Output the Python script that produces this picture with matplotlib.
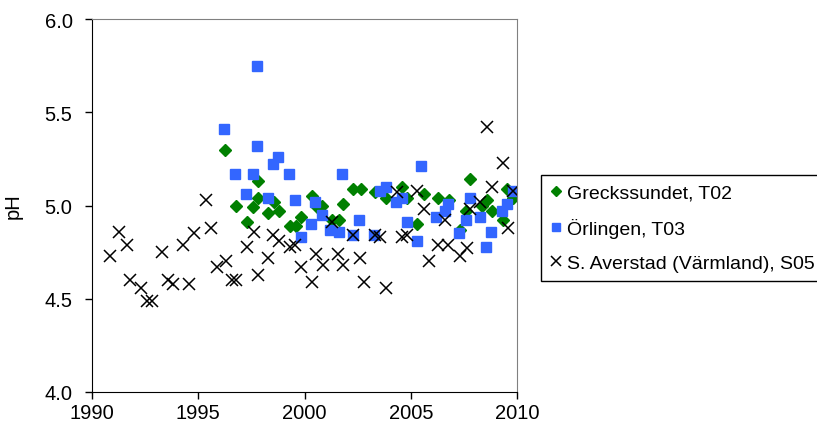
# pH at three lake stations, 1990-2010

import matplotlib.pyplot as plt

plt.rcParams['font.family'] = ['Liberation Sans', 'DejaVu Sans']

# Greckssundet, T02
t02_year = [1996.26, 1996.77, 1997.31, 1997.59, 1997.80, 1997.80, 1998.30, 1998.55, 1998.81,
            1999.32, 1999.60, 1999.82, 2000.34, 2000.60, 2000.80, 2001.28, 2001.64, 2001.80,
            2002.30, 2002.64, 2003.32, 2003.82, 2004.57, 2004.84, 2005.30, 2005.60, 2006.28,
            2006.78, 2007.32, 2007.60, 2007.79, 2008.36, 2008.57, 2008.81, 2009.32, 2009.53,
            2009.83]
t02_ph = [5.30, 5.00, 4.91, 4.99, 5.04, 5.13, 4.96, 5.02, 4.97,
          4.89, 4.89, 4.94, 5.05, 4.99, 5.00, 4.92, 4.92, 5.01,
          5.09, 5.09, 5.07, 5.04, 5.10, 5.04, 4.90, 5.06, 5.04,
          5.03, 4.87, 4.97, 5.14, 5.00, 5.03, 4.97, 4.92, 5.09,
          5.04]

# Örlingen, T03
t03_year = [1996.23, 1996.73, 1997.25, 1997.59, 1997.75, 1997.75, 1998.26, 1998.50, 1998.77,
            1999.27, 1999.53, 1999.82, 2000.29, 2000.50, 2000.80, 2001.20, 2001.60, 2001.75,
            2002.27, 2002.58, 2003.27, 2003.53, 2003.84, 2004.30, 2004.57, 2004.80, 2005.28,
            2005.50, 2006.20, 2006.61, 2006.77, 2007.29, 2007.58, 2007.79, 2008.26, 2008.53,
            2008.76, 2009.28, 2009.51, 2009.83]
t03_ph = [5.41, 5.17, 5.06, 5.17, 5.75, 5.32, 5.04, 5.22, 5.26,
          5.17, 5.03, 4.83, 4.90, 5.02, 4.95, 4.87, 4.86, 5.17,
          4.84, 4.92, 4.84, 5.08, 5.10, 5.02, 5.04, 4.91, 4.81,
          5.21, 4.94, 4.97, 5.01, 4.85, 4.92, 5.04, 4.94, 4.78,
          4.86, 4.97, 5.01, 5.08]

# S. Averstad (Värmland), S05
s05_year = [1990.85, 1991.27, 1991.63, 1991.79, 1992.29, 1992.60, 1992.81, 1993.31, 1993.56,
            1993.83, 1994.30, 1994.58, 1994.81, 1995.36, 1995.62, 1995.86, 1996.29, 1996.58,
            1996.76, 1997.28, 1997.64, 1997.80, 1998.30, 1998.53, 1998.82, 1999.32, 1999.55,
            1999.82, 2000.36, 2000.54, 2000.89, 2001.28, 2001.59, 2001.80, 2002.30, 2002.61,
            2002.80, 2003.32, 2003.55, 2003.84, 2004.34, 2004.57, 2004.80, 2005.30, 2005.60,
            2005.86, 2006.28, 2006.61, 2006.77, 2007.30, 2007.63, 2007.79, 2008.27, 2008.57,
            2008.81, 2009.32, 2009.57, 2009.83]
s05_ph = [4.73, 4.86, 4.79, 4.60, 4.56, 4.49, 4.49, 4.75, 4.60,
          4.58, 4.79, 4.58, 4.85, 5.03, 4.88, 4.67, 4.70, 4.60,
          4.60, 4.78, 4.86, 4.63, 4.72, 4.84, 4.81, 4.78, 4.79,
          4.67, 4.59, 4.74, 4.68, 4.91, 4.74, 4.68, 4.84, 4.72,
          4.59, 4.84, 4.83, 4.56, 5.07, 4.83, 4.84, 5.08, 4.98,
          4.70, 4.79, 4.92, 4.79, 4.73, 4.77, 4.98, 5.02, 5.42,
          5.10, 5.23, 4.88, 5.08]

x_ticks = [1990, 1995, 2000, 2005, 2010]
y_ticks = [4.0, 4.5, 5.0, 5.5, 6.0]

fig = plt.figure(figsize=(8.17, 4.39), dpi=100)
ax = fig.add_axes([92 / 817, 1 - 393 / 439, 425 / 817, 373 / 439])

ax.plot(t02_year, t02_ph, linestyle='none', marker='D', markersize=6.2,
        color='#008000', label='Greckssundet, T02')
ax.plot(t03_year, t03_ph, linestyle='none', marker='s', markersize=7,
        color='#3366ff', label='Örlingen, T03')
ax.plot(s05_year, s05_ph, linestyle='none', marker='x', markersize=8.5,
        markeredgewidth=1.1, color='black', label='S. Averstad (Värmland), S05')

ax.set_xlim(1990, 2010)
ax.set_ylim(4.0, 6.0)
ax.set_xticks(x_ticks)
ax.set_yticks(y_ticks)
ax.set_yticklabels([f'{v:.1f}' for v in y_ticks])
ax.tick_params(axis='both', direction='out', length=5, width=1, labelsize=14.5)
ax.tick_params(axis='y', pad=9)
ax.tick_params(axis='x', pad=3)

ax.spines['left'].set_color('black')
ax.spines['bottom'].set_color('black')
ax.spines['top'].set_color('#808080')
ax.spines['right'].set_color('#808080')

ax.set_ylabel('pH', fontsize=14.5)
ax.yaxis.set_label_coords(-0.163, 0.5)

leg = ax.legend(loc='upper left', bbox_to_anchor=(541 / 817, 1 - 176 / 439),
                bbox_transform=fig.transFigure, fontsize=14, frameon=True,
                fancybox=False, edgecolor='black', framealpha=1,
                handlelength=0.6, handletextpad=0.3, borderpad=0.45,
                labelspacing=0.85, borderaxespad=0, markerscale=0.8)
leg.get_frame().set_linewidth(1)

fig.savefig('out.png', dpi=100)
